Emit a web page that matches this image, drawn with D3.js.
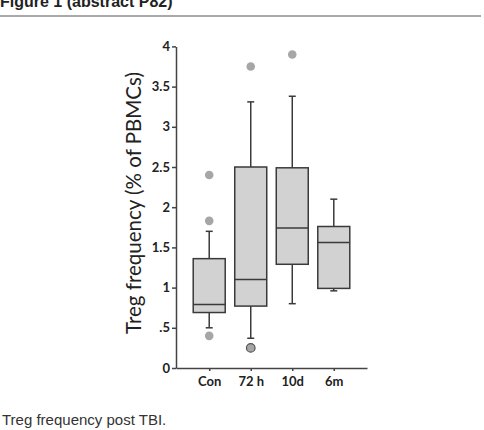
<!DOCTYPE html>
<html>
<head>
<meta charset="utf-8">
<script src="https://cdn.jsdelivr.net/npm/d3@7"></script>
<style>
  body { margin: 0; background: #fff; }
  svg { display: block; }
</style>
</head>
<body>
<div id="svg"></div>
<script>
// groups and box stats
var groups = ["Con", "72 h", "10d", "6m"];
var whiskerLow = [0.50, 0.37, 0.80, 0.96];
var q1 = [0.69, 0.77, 1.29, 0.99];
var median = [0.79, 1.10, 1.74, 1.56];
var q3 = [1.36, 2.50, 2.49, 1.76];
var whiskerHigh = [1.70, 3.31, 3.38, 2.10];
// outliers: [group, value]
var outliers = [["Con", 2.40], ["Con", 1.83], ["Con", 0.40], ["72 h", 3.75], ["72 h", 0.25], ["10d", 3.90]];
var yTicks = [0, 0.5, 1, 1.5, 2, 2.5, 3, 3.5, 4];
var yTickLabels = ["0", ".5", "1", "1.5", "2", "2.5", "3", "3.5", "4"];

var svgWidth = 484, svgHeight = 430;
var svg = d3.select("#svg").append("svg")
    .attr("width", svgWidth)
    .attr("height", svgHeight);

// header (clipped at the top, as in the scan)
svg.append("text")
    .attr("x", 0)
    .attr("y", 7)
    .attr("font-family", "Liberation Sans, Arial, sans-serif")
    .attr("font-weight", "bold")
    .attr("font-size", "16px")
    .attr("fill", "#222")
    .text("Figure 1 (abstract P82)");
svg.append("line")
    .attr("x1", 0).attr("x2", 481)
    .attr("y1", 16).attr("y2", 16)
    .attr("stroke", "#555")
    .attr("stroke-width", 1);

// caption
svg.append("text")
    .attr("x", 2)
    .attr("y", 425)
    .attr("font-family", "Liberation Sans, Arial, sans-serif")
    .attr("font-size", "15px")
    .attr("fill", "#333")
    .text("Treg frequency post TBI.");

var xScale = d3.scalePoint()
    .domain(groups)
    .range([176, 367])
    .padding(0.8);
var yScale = d3.scaleLinear()
    .domain([0, 4])
    .range([368, 46.4]);

var axisFont = "Lato, 'Open Sans', sans-serif";

var leftAxis = d3.axisLeft(yScale)
    .tickValues(yTicks)
    .tickFormat((d, i) => yTickLabels[i])
    .tickSize(4)
    .tickSizeOuter(0)
    .tickPadding(2);
var yAxisG = svg.append("g")
    .attr("transform", "translate(176,0)")
    .call(leftAxis);

var bottomAxis = d3.axisBottom(xScale)
    .tickSize(3)
    .tickSizeOuter(0)
    .tickPadding(6);
var xAxisG = svg.append("g")
    .attr("transform", "translate(0,368)")
    .call(bottomAxis);

[yAxisG, xAxisG].forEach(g => {
    g.selectAll("path, line").attr("stroke", "#444").attr("stroke-width", 1.5);
    g.selectAll("text")
        .attr("font-family", axisFont)
        .attr("font-weight", "bold")
        .attr("font-size", "13px")
        .attr("fill", "#222");
});

// y label
svg.append("text")
    .attr("text-anchor", "middle")
    .attr("transform", "translate(141,203)rotate(-90)")
    .attr("font-family", axisFont)
    .attr("font-size", "20.5px")
    .attr("fill", "#222")
    .text("Treg frequency (% of PBMCs)");

var boxW = 32, capW = 7;
var stroke = "#3a3a3a";
var data = groups.map((g, i) => ({
    g: g, lo: whiskerLow[i], q1: q1[i], med: median[i], q3: q3[i], hi: whiskerHigh[i]
}));

var boxes = svg.selectAll(".box")
    .data(data)
    .enter()
    .append("g")
    .attr("class", "box");

// whiskers
boxes.append("line")
    .attr("x1", d => xScale(d.g)).attr("x2", d => xScale(d.g))
    .attr("y1", d => yScale(d.hi)).attr("y2", d => yScale(d.q3))
    .attr("stroke", stroke).attr("stroke-width", 1.5);
boxes.append("line")
    .attr("x1", d => xScale(d.g)).attr("x2", d => xScale(d.g))
    .attr("y1", d => yScale(d.lo)).attr("y2", d => yScale(d.q1))
    .attr("stroke", stroke).attr("stroke-width", 1.5);
boxes.append("line")
    .attr("x1", d => xScale(d.g) - capW / 2).attr("x2", d => xScale(d.g) + capW / 2)
    .attr("y1", d => yScale(d.hi)).attr("y2", d => yScale(d.hi))
    .attr("stroke", stroke).attr("stroke-width", 1.5);
boxes.append("line")
    .attr("x1", d => xScale(d.g) - capW / 2).attr("x2", d => xScale(d.g) + capW / 2)
    .attr("y1", d => yScale(d.lo)).attr("y2", d => yScale(d.lo))
    .attr("stroke", stroke).attr("stroke-width", 1.5);

// box
boxes.append("rect")
    .attr("x", d => xScale(d.g) - boxW / 2)
    .attr("width", boxW)
    .attr("y", d => yScale(d.q3))
    .attr("height", d => yScale(d.q1) - yScale(d.q3))
    .attr("fill", "#d2d2d2")
    .attr("stroke", stroke)
    .attr("stroke-width", 1.5);
boxes.append("line")
    .attr("x1", d => xScale(d.g) - boxW / 2).attr("x2", d => xScale(d.g) + boxW / 2)
    .attr("y1", d => yScale(d.med)).attr("y2", d => yScale(d.med))
    .attr("stroke", stroke).attr("stroke-width", 1.5);

// outliers
svg.selectAll(".outlier")
    .data(outliers)
    .enter()
    .append("circle")
    .attr("class", "outlier")
    .attr("cx", d => xScale(d[0]))
    .attr("cy", d => yScale(d[1]))
    .attr("r", 4.3)
    .attr("fill", "#a6a6a6")
    .attr("stroke", d => d[1] < 0.3 ? "#555" : "none")
    .attr("stroke-width", 1.2);
</script>
</body>
</html>
